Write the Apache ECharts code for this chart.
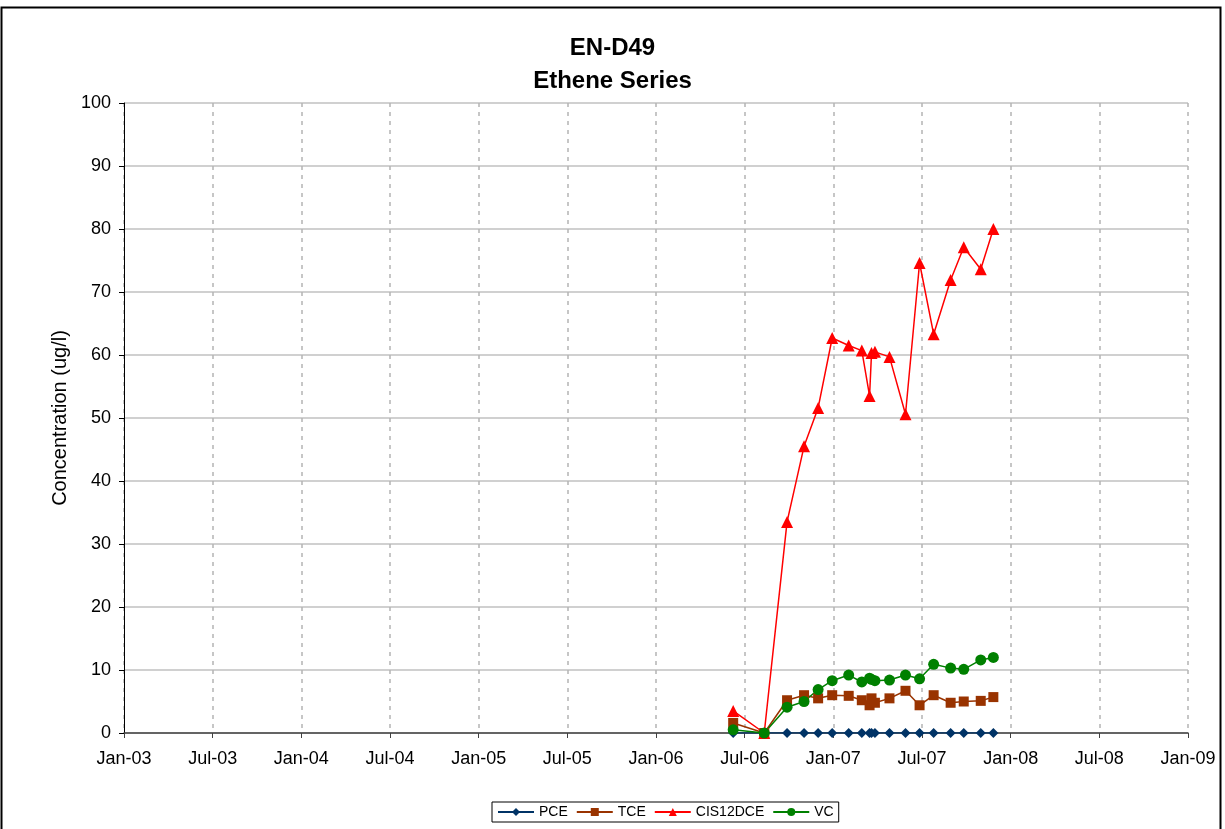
<!DOCTYPE html>
<html>
<head>
<meta charset="utf-8">
<script src="https://cdn.jsdelivr.net/npm/echarts@6/dist/echarts.min.js"></script>
<style>html,body{margin:0;padding:0;background:#fff}#c{width:1225px;height:829px}</style>
</head>
<body>
<div id="c"></div>
<script>
// ---- data ----
const dates = ['2006-06-09','2006-08-12','2006-09-28','2006-11-02','2006-12-01','2006-12-30',
  '2007-02-02','2007-03-01','2007-03-17','2007-03-21','2007-03-28','2007-04-27','2007-05-30',
  '2007-06-28','2007-07-27','2007-08-31','2007-09-27','2007-11-01','2007-11-27'];
const PCE =      [0,0,0,0,0,0,0,0,0,0,0,0,0,0,0,0,0,0,0];
const TCE =      [1.6,0,5.2,6.0,5.5,6.0,5.9,5.2,4.4,5.5,4.8,5.5,6.7,4.4,6.0,4.8,5.0,5.1,5.7];
const CIS12DCE = [3.5,0,33.5,45.5,51.6,62.7,61.5,60.7,53.5,60.3,60.5,59.7,50.6,74.6,63.3,71.9,77.1,73.6,80.0];
const VC =       [0.5,0,4.1,5.0,6.9,8.3,9.2,8.1,8.7,8.5,8.3,8.4,9.2,8.6,10.9,10.3,10.1,11.6,12.0];
const monthNames = ['Jan','Jul'];
const seriesNames = ['PCE','TCE','CIS12DCE','VC'];

const base = Date.UTC(2003,0,1);
const dayOf = s => { const p = s.split('-'); return (Date.UTC(+p[0], +p[1]-1, +p[2]) - base) / 86400000; };
const xMax = (Date.UTC(2009,0,1) - base) / 86400000;
const step = xMax / 12;
const pts = arr => arr.map((v,i) => [dayOf(dates[i]), v]);

const chart = echarts.init(document.getElementById('c'), null, {renderer:'canvas'});
const FONT = '"Liberation Sans", Arial, sans-serif';
const mk = (name, data, color, symbol, size) => ({
  name, type:'line', data: pts(data), symbol, symbolSize: size,
  lineStyle:{color, width:1.5}, itemStyle:{color}, animation:false
});
chart.setOption({
  animation:false,
  title:{text:'EN-D49\nEthene Series', left:'center', top:27,
    textStyle:{fontFamily:FONT, fontSize:24, fontWeight:'bold', color:'#000', lineHeight:33}},
  graphic:[{type:'rect', shape:{x:1.5, y:7.5, width:1219, height:840}, style:{fill:'none', stroke:'#000', lineWidth:2}}],
  grid:{left:124, right:37, top:103, bottom:96},
  legend:{left:492, top:802, itemGap:8, itemWidth:36, itemHeight:10, padding:[3,5,3,5],
    borderColor:'#000', borderWidth:1,
    textStyle:{fontFamily:FONT, fontSize:14, color:'#000'}, data: seriesNames},
  xAxis:{type:'value', min:0, max:xMax, interval:step,
    axisLine:{lineStyle:{color:'#404040', width:1.5}},
    axisTick:{length:5, lineStyle:{color:'#404040'}},
    axisLabel:{fontFamily:FONT, fontSize:18, color:'#000', margin:17,
      formatter: v => { const k = Math.round(v/step); const y = 3 + Math.floor(k/2); return monthNames[k%2] + '-' + String(y).padStart(2,'0'); }},
    splitLine:{show:true, lineStyle:{color:'#b4b4b4', width:1.5, type:[4,5]}}},
  yAxis:{type:'value', min:0, max:100, interval:10, name:'Concentration (ug/l)', nameLocation:'middle', nameGap:54,
    nameTextStyle:{fontFamily:FONT, fontSize:20, color:'#000'},
    axisLine:{show:true, lineStyle:{color:'#000', width:1}},
    axisTick:{show:true, length:5, lineStyle:{color:'#000'}},
    axisLabel:{fontFamily:FONT, fontSize:18, color:'#000', margin:13},
    splitLine:{show:true, lineStyle:{color:'#c0c0c0', width:1.5}}},
  series:[
    mk('PCE', PCE, '#003366', 'diamond', 10),
    mk('TCE', TCE, '#993300', 'rect', 10),
    mk('CIS12DCE', CIS12DCE, '#ff0000', 'triangle', 12),
    mk('VC', VC, '#008000', 'circle', 11)
  ]
});
</script>
</body>
</html>
